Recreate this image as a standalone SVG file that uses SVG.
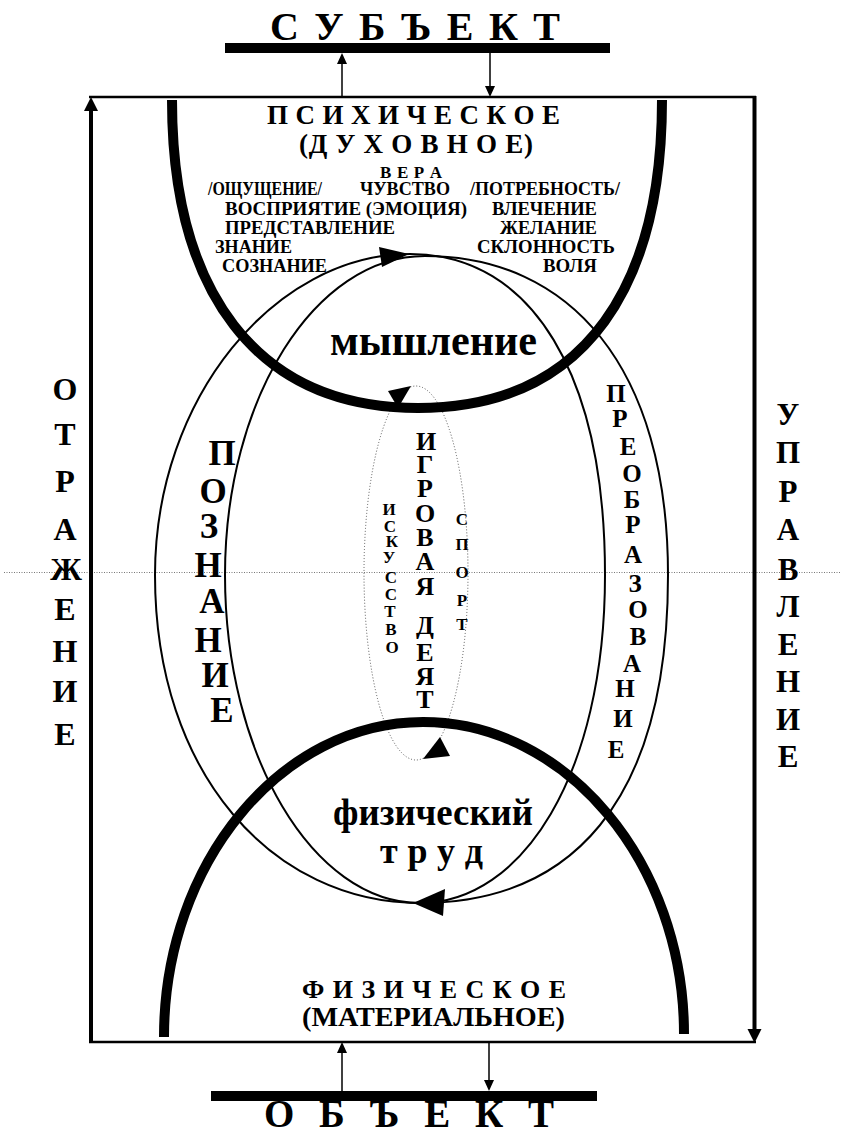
<svg xmlns="http://www.w3.org/2000/svg" width="841" height="1132" viewBox="0 0 841 1132">
<style>
.t{font-family:"Liberation Serif","Times New Roman",serif;font-weight:bold;fill:#000}
.thick{fill:none;stroke:#000;stroke-width:10}
.loop{fill:none;stroke:#000;stroke-width:2}
.thin{fill:none;stroke:#000;stroke-width:1.5}
.dot{fill:none;stroke:#555;stroke-width:1;stroke-dasharray:1 2}
.hd{fill:#000}
</style>
<rect width="841" height="1132" fill="#fff"/>
<g id="axis">
<line x1="4" y1="572.5" x2="841" y2="572.5" stroke="#777" stroke-width="1" stroke-dasharray="1 1.5"/>
</g>
<g id="connectors">
<path id="loop-poznanie" class="loop" d="M410,254 C533,254 605,376 605,575 C605,775 522,903 420,903 C274,903 155,775 155,575 C155,398 275,254 410,254 Z"/>
<path id="loop-preobr" class="loop" d="M425,256 C570,256 668,367 668,575 C668,805 569,903 420,903 C313,903 225,755 225,575 C225,399 315,256 425,256 Z"/>
<polygon class="hd" points="409,254 379,247 382,267"/>
<polygon class="hd" points="413,903 445,889 443,916"/>
<ellipse id="loop-play" class="dot" cx="416" cy="573" rx="52" ry="187"/>
<polygon class="hd" points="411,386 388,391 398,408"/>
<polygon class="hd" points="423,759 440,737 450,756"/>
<line class="thin" x1="342" y1="97" x2="342" y2="63"/>
<polygon class="hd" points="342,53 337,64 347,64"/>
<line class="thin" x1="490" y1="53" x2="490" y2="87"/>
<polygon class="hd" points="490,97 485,86 495,86"/>
<line class="thin" x1="342" y1="1091" x2="342" y2="1052"/>
<polygon class="hd" points="342,1042 337,1053 347,1053"/>
<line class="thin" x1="489" y1="1042" x2="489" y2="1081"/>
<polygon class="hd" points="489,1091 484,1080 494,1080"/>
</g>
<g id="frame">
<line x1="89" y1="97" x2="756" y2="97" stroke="#000" stroke-width="2.5"/>
<line x1="89" y1="1042" x2="756" y2="1042" stroke="#000" stroke-width="2.5"/>
<line x1="91" y1="1043" x2="91" y2="109" stroke="#000" stroke-width="4"/>
<polygon class="hd" points="91,97 84,111 98,111"/>
<line x1="754.5" y1="96" x2="754.5" y2="1030" stroke="#000" stroke-width="4"/>
<polygon class="hd" points="754.5,1043 747.5,1029 761.5,1029"/>
</g>
<g id="subject">
<rect x="225" y="43" width="385" height="10" fill="#000"/>
<text class="t" x="270" y="40" font-size="40" textLength="290" lengthAdjust="spacing">С У Б Ъ Е К Т</text>
</g>
<g id="object">
<rect x="211" y="1091" width="386" height="10" fill="#000"/>
<text class="t" x="264" y="1127" font-size="39" textLength="290" lengthAdjust="spacing">О Б Ъ Е К Т</text>
</g>
<g id="psychic">
<path class="thick" d="M172,100 C172,290 255,408 418,408 C590,408 662,280 662,100"/>
<text class="t" x="267" y="124" font-size="27" textLength="293" lengthAdjust="spacing">П С И Х И Ч Е С К О Е</text>
<text class="t" x="299" y="153" font-size="27" textLength="234" lengthAdjust="spacing">(Д У Х О В Н О Е)</text>
<text class="t" x="380" y="178" font-size="17" textLength="62" lengthAdjust="spacing">В Е Р А</text>
<g font-size="19">
<text class="t" x="208" y="195" textLength="114" lengthAdjust="spacingAndGlyphs">/ОЩУЩЕНИЕ/</text>
<text class="t" x="360" y="195" textLength="90" lengthAdjust="spacingAndGlyphs">ЧУВСТВО</text>
<text class="t" x="470" y="195" textLength="150" lengthAdjust="spacingAndGlyphs">/ПОТРЕБНОСТЬ/</text>
<text class="t" x="225" y="215" textLength="242" lengthAdjust="spacingAndGlyphs">ВОСПРИЯТИЕ (ЭМОЦИЯ)</text>
<text class="t" x="492" y="215" textLength="105" lengthAdjust="spacingAndGlyphs">ВЛЕЧЕНИЕ</text>
<text class="t" x="225" y="234" textLength="170" lengthAdjust="spacingAndGlyphs">ПРЕДСТАВЛЕНИЕ</text>
<text class="t" x="500" y="234" textLength="97" lengthAdjust="spacingAndGlyphs">ЖЕЛАНИЕ</text>
<text class="t" x="215" y="253" textLength="77" lengthAdjust="spacingAndGlyphs">ЗНАНИЕ</text>
<text class="t" x="477" y="253" textLength="138" lengthAdjust="spacingAndGlyphs">СКЛОННОСТЬ</text>
<text class="t" x="222" y="272" textLength="105" lengthAdjust="spacingAndGlyphs">СОЗНАНИЕ</text>
<text class="t" x="543" y="272" textLength="54" lengthAdjust="spacingAndGlyphs">ВОЛЯ</text>
</g>
</g>
<g id="physical">
<path class="thick" d="M164,1037 C164,863 281,722 423,722 C567,722 684,863 684,1034"/>
<text class="t" x="302" y="998" font-size="26" textLength="264" lengthAdjust="spacing">Ф И З И Ч Е С К О Е</text>
<text class="t" x="302" y="1026" font-size="28" textLength="263" lengthAdjust="spacingAndGlyphs">(МАТЕРИАЛЬНОЕ)</text>
</g>
<g id="thinking">
<text class="t" x="330" y="355" font-size="44" textLength="207" lengthAdjust="spacingAndGlyphs">мышление</text>
</g>
<g id="labour">
<text class="t" x="333" y="825" font-size="37" textLength="200" lengthAdjust="spacingAndGlyphs">физический</text>
<text class="t" x="380" y="863" font-size="36" textLength="103" lengthAdjust="spacing">т р у д</text>
</g>
<g id="play">
<text class="t" font-size="26" text-anchor="middle"><tspan x="426" y="450">И</tspan><tspan x="425" y="473">Г</tspan><tspan x="425" y="497">Р</tspan><tspan x="425" y="522">О</tspan><tspan x="425" y="546">В</tspan><tspan x="425" y="570">А</tspan><tspan x="425" y="595">Я</tspan><tspan x="425" y="634">Д</tspan><tspan x="425" y="661">Е</tspan><tspan x="425" y="685">Я</tspan><tspan x="425" y="708">Т</tspan><tspan x="428" y="727">.</tspan></text>
<text class="t" font-size="17" text-anchor="middle"><tspan x="389" y="515">И</tspan><tspan x="390" y="532">С</tspan><tspan x="392" y="547">К</tspan><tspan x="389" y="563">У</tspan><tspan x="391" y="583">С</tspan><tspan x="391" y="600">С</tspan><tspan x="390" y="617">Т</tspan><tspan x="391" y="635">В</tspan><tspan x="392" y="653">О</tspan></text>
<text class="t" font-size="17" text-anchor="middle"><tspan x="462" y="525">С</tspan><tspan x="462" y="550">П</tspan><tspan x="462" y="578">О</tspan><tspan x="462" y="606">Р</tspan><tspan x="462" y="630">Т</tspan></text>
</g>
<g id="poznanie">
<text class="t" font-size="35" text-anchor="middle"><tspan x="222" y="465">П</tspan><tspan x="213" y="503">О</tspan><tspan x="209" y="538">З</tspan><tspan x="208" y="577">Н</tspan><tspan x="212" y="613">А</tspan><tspan x="208" y="652">Н</tspan><tspan x="215" y="687">И</tspan><tspan x="222" y="722">Е</tspan></text>
</g>
<g id="preobrazovanie">
<text class="t" font-size="25" text-anchor="middle"><tspan x="616" y="402">П</tspan><tspan x="620" y="427">Р</tspan><tspan x="628" y="455">Е</tspan><tspan x="632" y="482">О</tspan><tspan x="632" y="508">Б</tspan><tspan x="633" y="533">Р</tspan><tspan x="633" y="563">А</tspan><tspan x="635" y="592">З</tspan><tspan x="638" y="618">О</tspan><tspan x="638" y="645">В</tspan><tspan x="632" y="672">А</tspan><tspan x="625" y="697">Н</tspan><tspan x="623" y="727">И</tspan><tspan x="616" y="758">Е</tspan></text>
</g>
<g id="otrazhenie">
<text class="t" font-size="32" text-anchor="middle"><tspan x="65" y="400">О</tspan><tspan x="65" y="445">Т</tspan><tspan x="65" y="492">Р</tspan><tspan x="65" y="540">А</tspan><tspan x="66" y="580">Ж</tspan><tspan x="65" y="620">Е</tspan><tspan x="65" y="662">Н</tspan><tspan x="65" y="702">И</tspan><tspan x="65" y="745">Е</tspan></text>
</g>
<g id="upravlenie">
<text class="t" font-size="31" text-anchor="middle"><tspan x="788" y="425">У</tspan><tspan x="788" y="463">П</tspan><tspan x="788" y="502">Р</tspan><tspan x="788" y="540">А</tspan><tspan x="788" y="580">В</tspan><tspan x="788" y="617">Л</tspan><tspan x="788" y="655">Е</tspan><tspan x="788" y="692">Н</tspan><tspan x="788" y="730">И</tspan><tspan x="788" y="767">Е</tspan></text>
</g>
</svg>
